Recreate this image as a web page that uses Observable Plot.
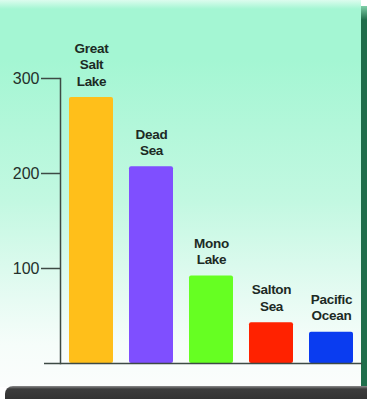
<!DOCTYPE html>
<html>
<head>
<meta charset="utf-8">
<script src="https://cdn.jsdelivr.net/npm/d3@7"></script>
<script src="https://cdn.jsdelivr.net/npm/@observablehq/plot@0.6"></script>
<style>
  html, body { margin: 0; padding: 0; background: #ffffff; }
  #chart {
    position: relative;
    width: 367px;
    height: 399px;
    overflow: hidden;
    background: #ffffff;
  }
  /* mint panel with a soft fade towards the bottom */
  #panel {
    position: absolute;
    left: 0; top: 0;
    width: 361px; height: 387px;
    background: linear-gradient(to bottom,
      #dcfcee 0px, #a4f6d3 9px, #a4f6d3 60px, #c2f8e1 200px,
      #e7fbf3 300px, #f6fdfa 345px, #fbfdfc 387px);
  }
  /* dark green edge on the right */
  #edge-right {
    position: absolute;
    left: 361px; top: 6px;
    width: 6px; height: 383px;
    background: linear-gradient(to bottom, #7fcfa8 0px, #1f6e4b 14px, #1f6e4b 100%);
  }
  /* dark shadow strip along the bottom */
  #edge-bottom {
    position: absolute;
    left: 5px; top: 386px;
    width: 362px; height: 13px;
    border-top-left-radius: 8px;
    background: linear-gradient(to bottom, #8a8a8a 0px, #3c3c3c 3px, #333333 100%);
  }
  #chart svg { position: absolute; left: 0; top: 0; }
  .bar-label text { letter-spacing: -0.3px; }
</style>
</head>
<body>
<div id="chart">
  <div id="panel"></div>
  <div id="edge-right"></div>
  <div id="edge-bottom"></div>
</div>
<script>
// Salinity of salty bodies of water
const waters = ["Great\nSalt\nLake", "Dead\nSea", "Mono\nLake", "Salton\nSea", "Pacific\nOcean"];
const salinity = [280, 207, 92, 43, 33];
const colors = ["#ffbf1a", "#7f4fff", "#66ff22", "#ff2200", "#0a3cf0"];
const yTicks = [100, 200, 300];

const rows = waters.map((name, i) => ({name, value: salinity[i], color: colors[i]}));

const chart = Plot.plot({
  width: 367,
  height: 399,
  marginLeft: 60,
  marginRight: 5,
  marginTop: 78,
  marginBottom: 36,
  style: {
    background: "transparent",
    fontFamily: "'Liberation Sans', Arial, Helvetica, sans-serif",
    color: "#24302b"
  },
  x: {domain: waters, paddingInner: 0.26, paddingOuter: 0.12, axis: null},
  y: {domain: [0, 300], axis: null},
  marks: [
    Plot.frame({anchor: "left", stroke: "#3d4a44", strokeWidth: 1.5, strokeOpacity: 1}),
    Plot.axisY({
      ticks: yTicks,
      tickSize: 19,
      tickPadding: 2,
      fontSize: 16,
      stroke: "#3d4a44",
      strokeWidth: 1.5,
      strokeOpacity: 1,
      label: null
    }),
    Plot.barY(rows, {x: "name", y: "value", fill: "color", rx: 2}),
    Plot.ruleY([0], {stroke: "#3d4a44", strokeWidth: 1.5, insetLeft: -16}),
    Plot.text(rows, {
      x: "name",
      y: "value",
      text: "name",
      lineAnchor: "bottom",
      lineHeight: 1.2,
      dy: -12,
      fontSize: 13.5,
      fontWeight: "bold",
      fill: "#1c2a24",
      className: "bar-label"
    })
  ]
});

document.getElementById("chart").appendChild(chart);
</script>
</body>
</html>
